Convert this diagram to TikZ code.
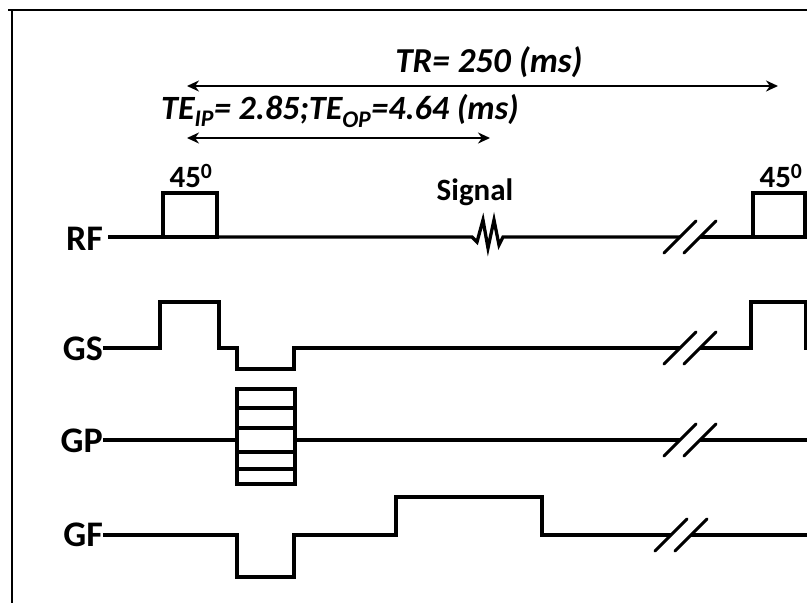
\documentclass[tikz,border=0pt]{standalone}
\usepackage{fontspec}
\setmainfont{Carlito}
\usetikzlibrary{arrows.meta}
\begin{document}
\begin{tikzpicture}[x=1pt,y=-1pt,
  wave/.style={line width=3.3pt,line join=miter},
  slash/.style={line width=3pt,line cap=round},
  dim/.style={line width=2.8pt,{Stealth[length=12pt,width=11pt]}-{Stealth[length=12pt,width=11pt]}},
  lab/.style={font=\fontsize{36}{38}\selectfont\bfseries,inner sep=0pt,anchor=east},
  txt/.style={font=\fontsize{31}{33}\selectfont\bfseries,inner sep=0pt},
  ttl/.style={font=\fontsize{35}{37}\selectfont\bfseries\itshape,inner sep=0pt},
  ttlb/.style={font=\fontsize{34}{36}\selectfont\bfseries\itshape,inner sep=0pt}]
\useasboundingbox (0,0) rectangle (807,603);
\fill[white] (0,0) rectangle (807,603);
% frame
\draw[line width=2.2pt] (8,10) -- (807,10);
\draw[line width=2.2pt] (12,10) -- (12,603);
% timing arrows
\coordinate (tra) at (187,86);
\coordinate (trb) at (778,86);
\coordinate (tea) at (187,138);
\coordinate (teb) at (490,138);
\draw[dim] (tra) -- (trb);
\draw[dim] (tea) -- (teb);
\node[ttl] (tr) at (489,62) {TR= 250 (ms)};
\node[ttlb,anchor=west] (te) at (161,111) {TE\textsubscript{IP}= 2.85;TE\textsubscript{OP}=4.64 (ms)};
% labels
\node[lab] (rf) at (103,239) {RF};
\node[lab] (gs) at (103,349) {GS};
\node[lab] (gp) at (103,441) {GP};
\node[lab] (gf) at (103,535) {GF};
\node[txt] (a1) at (191,176) {45\textsuperscript{0}};
\node[txt] (a2) at (781,176) {45\textsuperscript{0}};
\node[txt] (sig) at (475,192) {Signal};
% RF
\draw[wave] (108,237) -- (163,237) -- (163,193) -- (217,193) -- (217,237) -- (163,237);
\draw[wave] (217,237) -- (472,237) -- (477,242) -- (483,220) -- (488,248) -- (494,220) -- (499,245) -- (503,237) -- (680,237);
\draw[wave] (700,237) -- (753,237) -- (753,193) -- (805,193) -- (805,237) -- (753,237);
\draw[wave] (805,237) -- (807,237);
% GS
\draw[wave] (103,348) -- (160,348) -- (160,302) -- (219,302) -- (219,348) -- (237,348) -- (237,369) -- (294,369) -- (294,348) -- (680,348);
\draw[wave] (700,348) -- (751,348) -- (751,302) -- (806,302) -- (806,350);
% GP
\draw[wave] (103,440) -- (237,440);
\draw[wave] (237,389) rectangle (295,484);
\foreach \yy in {408,428,452,469} \draw[wave] (237,\yy) -- (295,\yy);
\draw[wave] (295,440) -- (680,440);
\draw[wave] (700,440) -- (807,440);
% GF
\draw[wave] (103,535) -- (237,535) -- (237,577) -- (294,577) -- (294,535) -- (396,535) -- (396,497) -- (542,497) -- (542,535) -- (671,535);
\draw[wave] (691,535) -- (807,535);
% break marks
\foreach \yy in {237,348,440} {
  \draw[slash] (664,\yy+16) -- (696,\yy-16);
  \draw[slash] (684,\yy+16) -- (716,\yy-16);
}
\draw[slash] (655,551) -- (687,519);
\draw[slash] (675,551) -- (707,519);
\end{tikzpicture}
\end{document}
